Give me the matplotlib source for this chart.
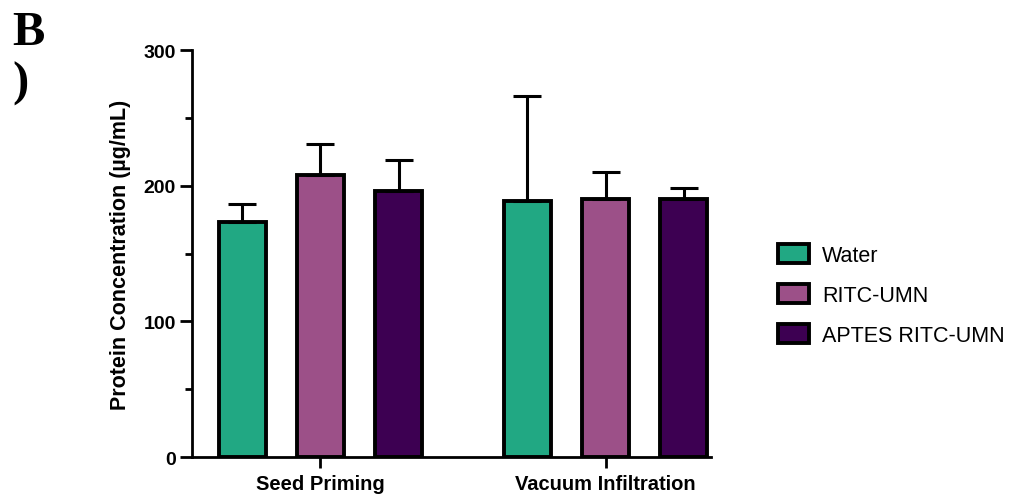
import numpy as np
import matplotlib
matplotlib.use("Agg")
import matplotlib.pyplot as plt
from matplotlib.patches import Patch
from matplotlib.ticker import MultipleLocator

plt.rcParams['font.family'] = ['Liberation Sans', 'DejaVu Sans']

groups = ["Seed Priming", "Vacuum Infiltration"]
treatments = ["Water", "RITC-UMN", "APTES RITC-UMN"]
colors = ["#21A883", "#9C5088", "#3D0052"]

# mean protein concentration (ug/mL), one list per treatment: [seed priming, vacuum infiltration]
means = {
    "Water": [173, 189],
    "RITC-UMN": [208, 190],
    "APTES RITC-UMN": [196, 190],
}
# upper error (SD)
errors = {
    "Water": [13.5, 77],
    "RITC-UMN": [23, 20],
    "APTES RITC-UMN": [23, 8.5],
}

fig = plt.figure(figsize=(10.10, 5.02), dpi=100)
ax = fig.add_axes([0.190, 0.0876, 0.514, 0.8108])

x = np.arange(len(groups))
offsets = [-0.274, 0.0, 0.274]
width = 0.165

for name, col, off in zip(treatments, colors, offsets):
    vals = np.array(means[name])
    err = np.array(errors[name])
    ax.bar(x + off, vals, width, color=col, edgecolor="black", linewidth=2.8, zorder=2)
    ax.errorbar(x + off, vals, yerr=[np.zeros_like(err), err], fmt="none",
                ecolor="black", elinewidth=2.2, capsize=10, capthick=2.2, zorder=3)

ax.set_xlim(-0.451, 1.370)
ax.set_ylim(0, 300)
ax.yaxis.set_major_locator(MultipleLocator(100))
ax.yaxis.set_minor_locator(MultipleLocator(50))
ax.set_xticks(x)
ax.set_xticklabels(groups, fontsize=14.5, fontweight="bold")
for lab in ax.get_yticklabels():
    lab.set_fontweight("bold")
ax.tick_params(axis="y", which="major", labelsize=14, length=8.5, width=2.0, pad=3)
ax.tick_params(axis="y", which="minor", length=5, width=2.0)
ax.tick_params(axis="x", length=8, width=2.0, pad=4)

ax.spines["top"].set_visible(False)
ax.spines["right"].set_visible(False)
ax.spines["left"].set_linewidth(2.0)
ax.spines["bottom"].set_linewidth(2.0)
ax.set_ylabel("Protein Concentration (µg/mL)", fontsize=15.5, fontweight="bold", labelpad=9)

handles = [Patch(facecolor=c, edgecolor="black", linewidth=2.8) for c in colors]
fig.legend(handles, treatments, loc="center left", bbox_to_anchor=(0.770, 0.410),
           frameon=False, fontsize=15.5, handlelength=1.45, handleheight=0.95,
           handletextpad=0.6, labelspacing=0.85, borderpad=0, borderaxespad=0)

fig.text(0.012, 0.91, "B", fontsize=35, fontweight="bold", family="Liberation Serif")
fig.text(0.012, 0.81, ")", fontsize=35, fontweight="bold", family="Liberation Serif")

fig.savefig("out.png", dpi=100)
